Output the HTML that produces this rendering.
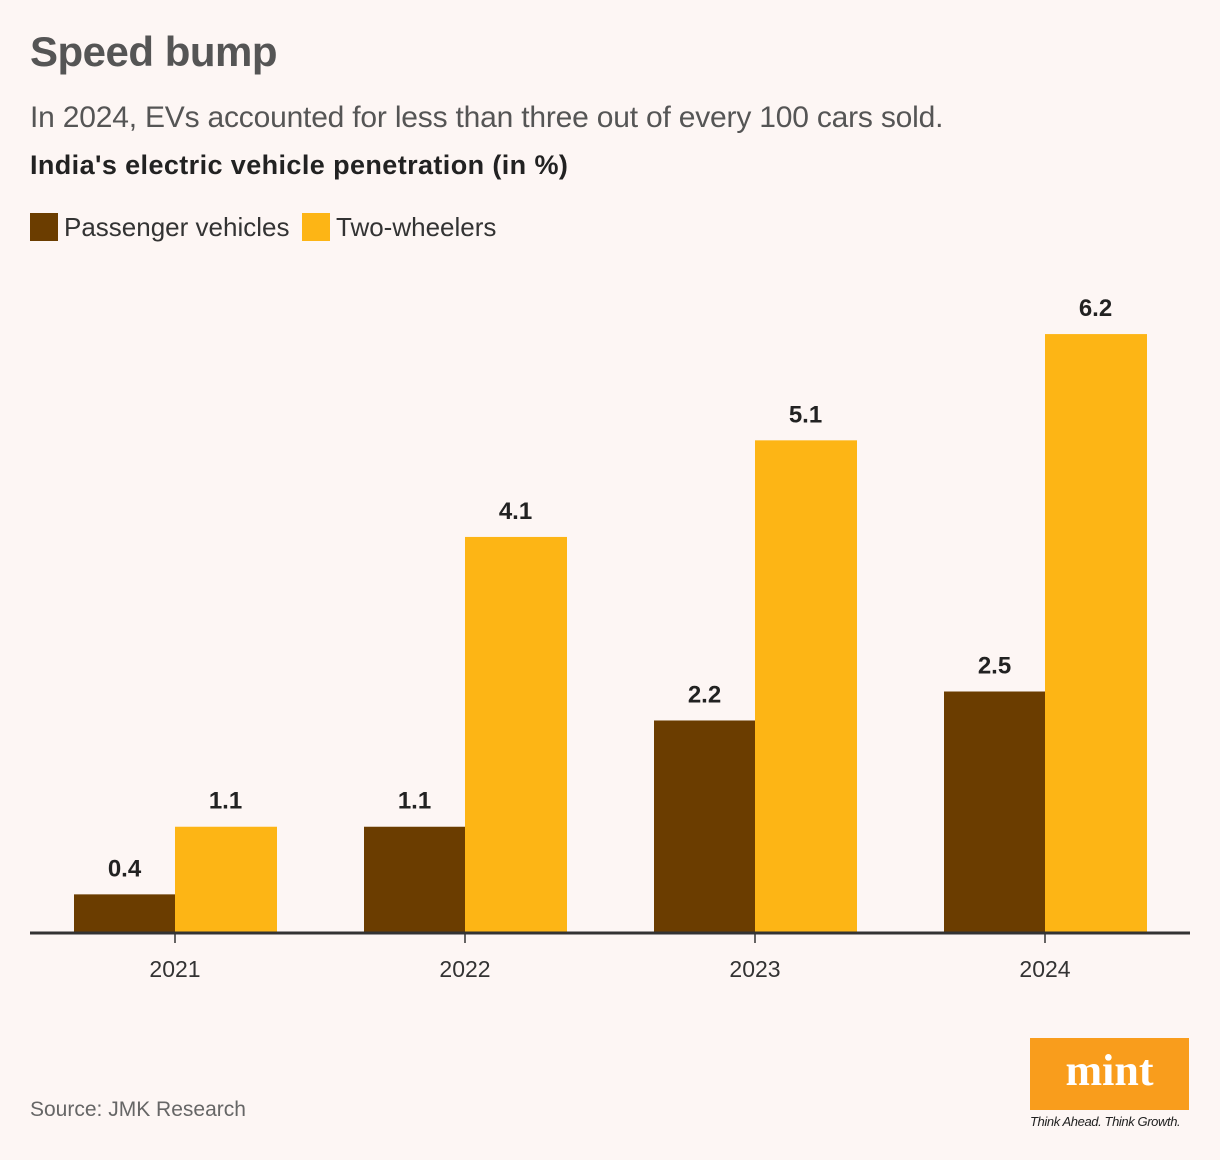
<!DOCTYPE html>
<html><head><meta charset="utf-8"><style>
body{margin:0;background:#fdf6f4;font-family:"Liberation Sans",sans-serif;}
#wrap{position:relative;width:1220px;height:1160px;overflow:hidden;}
.t{position:absolute;white-space:nowrap;}
</style></head><body>
<div id="wrap">
<div class="t" style="left:30px;top:28px;font-size:42px;font-weight:bold;color:#555;letter-spacing:-0.5px">Speed bump</div>
<div class="t" style="left:30px;top:101px;font-size:30px;color:#555;letter-spacing:-0.2px">In 2024, EVs accounted for less than three out of every 100 cars sold.</div>
<div class="t" style="left:30px;top:150px;font-size:27px;font-weight:bold;color:#222;letter-spacing:0.4px">India's electric vehicle penetration (in %)</div>
<div class="t" style="left:30px;top:212px;font-size:26px;color:#333"><span style="display:inline-block;width:28px;height:28px;background:#6b3d00;vertical-align:-5px;margin-right:6px"></span>Passenger vehicles</div>
<div class="t" style="left:302px;top:212px;font-size:26px;color:#333"><span style="display:inline-block;width:28px;height:28px;background:#fdb515;vertical-align:-5px;margin-right:6px"></span>Two-wheelers</div>
<svg id="chart" width="1220" height="1160" style="position:absolute;left:0;top:0"></svg>
<div class="t" style="left:30px;top:1098px;font-size:21px;color:#666">Source: JMK Research</div>
<div style="position:absolute;left:1030px;top:1038px;width:159px;height:72px;background:#f99d1c;color:#fff;font-family:'Liberation Serif',serif;font-weight:bold;font-size:44px;text-align:center;line-height:66px">mint</div>
<div class="t" style="left:1030px;top:1114px;font-size:13px;font-style:italic;color:#222;letter-spacing:-0.4px">Think Ahead. Think Growth.</div>
</div>
<script>
const years=["2021","2022","2023","2024"];
const passenger=[0.4,1.1,2.2,2.5];
const twoWheelers=[1.1,4.1,5.1,6.2];
const labelsPV=["0.4","1.1","2.2","2.5"];
const labelsTW=["1.1","4.1","5.1","6.2"];
const svg=document.getElementById('chart');
const NS='http://www.w3.org/2000/svg';
const base=933,scale=96.6,x0=175,step=290,bw=101;
const y=v=>base-v*scale;
const xc=i=>x0+i*step;
function mk(tag,attrs){const e=document.createElementNS(NS,tag);for(const k in attrs)e.setAttribute(k,attrs[k]);svg.appendChild(e);return e;}
years.forEach((yr,i)=>{
  const c=xc(i);
  const r1=mk('rect',{x:c-bw,y:y(passenger[i]),width:bw,height:passenger[i]*scale,fill:'#6b3d00'});
  
  
  const r2=mk('rect',{x:c,y:y(twoWheelers[i]),width:bw+1,height:twoWheelers[i]*scale,fill:'#fdb515'});
  
  
  const l1=mk('text',{x:c-bw/2,y:y(passenger[i])-18,'text-anchor':'middle','font-size':24,'font-weight':'bold',fill:'#222','font-family':'Liberation Sans'});
  l1.textContent=labelsPV[i];
  
  
  const l2=mk('text',{x:c+bw/2,y:y(twoWheelers[i])-18,'text-anchor':'middle','font-size':24,'font-weight':'bold',fill:'#222','font-family':'Liberation Sans'});
  l2.textContent=labelsTW[i];
  
  
  const tk=mk('line',{x1:c,x2:c,y1:base,y2:base+10,stroke:'#333','stroke-width':1.5});
  
  
  const tl=mk('text',{x:c,y:977,'text-anchor':'middle','font-size':23,fill:'#333','font-family':'Liberation Sans'});
  tl.textContent=yr;
  
  
});
const ax=mk('line',{x1:30,x2:1190,y1:base,y2:base,stroke:'#333','stroke-width':3});


</script>
</body></html>
